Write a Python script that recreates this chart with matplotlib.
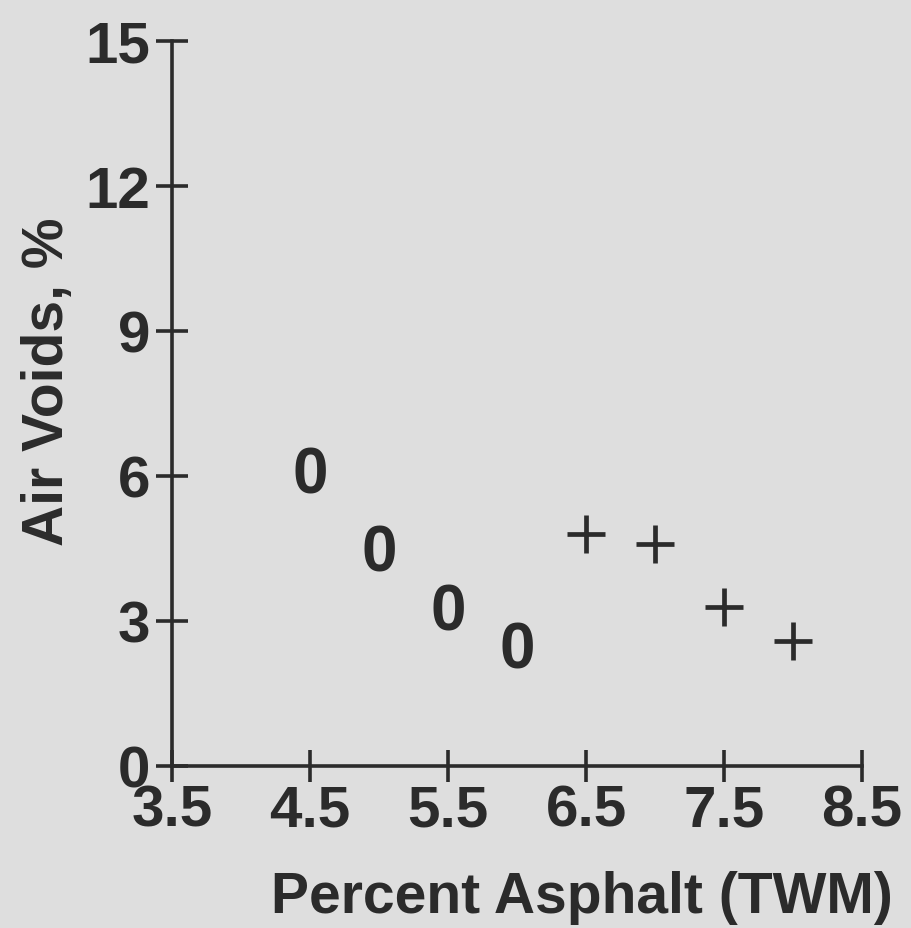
import matplotlib
matplotlib.use("Agg")
from matplotlib.pyplot import subplots

# mix 1 ("0" symbols) and mix 2 ("+" symbols)
asphalt_o = [4.5, 5.0, 5.5, 6.0]
voids_o = [6.15, 4.53, 3.31, 2.53]
asphalt_p = [6.5, 7.0, 7.5, 8.0]
voids_p = [4.80, 4.60, 3.29, 2.59]

x_ticks = [3.5, 4.5, 5.5, 6.5, 7.5, 8.5]
y_ticks = [0, 3, 6, 9, 12, 15]

INK = "#2b2b2b"
BG = "#dedede"
FONT = "Liberation Sans"

fig, ax = subplots(figsize=(9.12, 9.29), dpi=100)
fig.patch.set_facecolor(BG)
ax.set_facecolor(BG)
fig.subplots_adjust(left=0.1886, right=0.9452, bottom=0.1744, top=0.9548)

for x, y in zip(asphalt_o, voids_o):
    ax.text(x, y, "0", ha="center", va="center_baseline", fontsize=46, fontweight="bold",
            family=FONT, color=INK)
ax.plot(asphalt_p, voids_p, linestyle="none", marker="+", markersize=27,
        markeredgewidth=3.4, color=INK)

ax.set_xlim(3.5, 8.5)
ax.set_ylim(0, 15)
ax.set_xticks(x_ticks)
ax.set_xticklabels([f"{v:.1f}" for v in x_ticks])
ax.set_yticks(y_ticks)

for side in ("top", "right"):
    ax.spines[side].set_visible(False)
for side in ("left", "bottom"):
    ax.spines[side].set_linewidth(2.6)
    ax.spines[side].set_color(INK)

ax.tick_params(axis="both", direction="inout", length=23, width=2.6, color=INK,
               labelsize=42, labelcolor=INK)
ax.tick_params(axis="x", pad=1)
ax.tick_params(axis="y", pad=4)
for lab in ax.get_xticklabels() + ax.get_yticklabels():
    lab.set_fontweight("bold")
    lab.set_family(FONT)

ax.set_xlabel("Percent Asphalt (TWM)", fontsize=41, fontweight="bold", family=FONT,
              color=INK, va="baseline")
ax.xaxis.set_label_coords(0.594, -0.201)
ax.set_ylabel("Air Voids, %", fontsize=41, fontweight="bold", family=FONT,
              color=INK, va="baseline", ha="center", rotation_mode="anchor")
ax.yaxis.set_label_coords(-0.158, 0.532)

fig.savefig("out.png", facecolor=BG)
